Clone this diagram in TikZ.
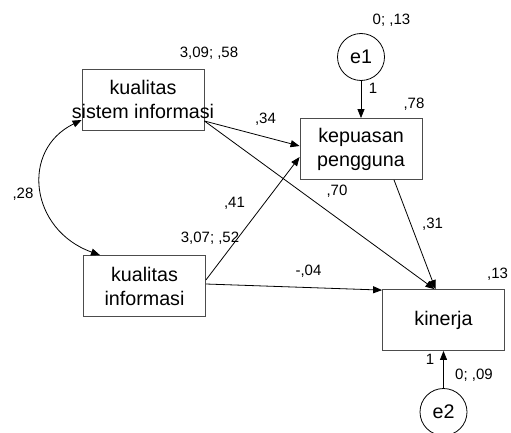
\documentclass[tikz,border=0pt]{standalone}
\usepackage{fontspec}
\setmainfont{Liberation Sans}
\usetikzlibrary{arrows.meta}

\begin{document}
\begin{tikzpicture}[x=1pt, y=-1pt, line width=0.8pt, >={Triangle[length=9pt,width=7pt]},
  box/.style={draw=black!70, rectangle, minimum width=122pt, minimum height=61pt, inner xsep=-12pt, align=center, font=\fontsize{19.7}{24}\selectfont},
  err/.style={draw, circle, minimum size=47pt, inner sep=0pt, font=\fontsize{19.7}{24}\selectfont},
  lbl/.style={inner sep=0pt, font=\fontsize{15}{18}\selectfont, text height=0.72em, text depth=0pt}]
\useasboundingbox (0,0) rectangle (511,433);
\clip (0,0) rectangle (511,433);
% observed variables
\node[box] (ksi) at (143,99.5) {kualitas\\sistem informasi};
\node[box] (kp) at (361,149) {kepuasan\\pengguna};
\node[box] (ki) at (144.5,286) {kualitas\\informasi};
\node[box] (kin) at (443.5,320) {kinerja};
% error terms
\node[err] (e1) at (361,57) {e1};
\node[err] (e2) at (443.5,412) {e2};
% estimates
\node[lbl] (ksivar) at (209,53.5) {3,09; ,58};
\node[lbl] (kivar) at (210,239) {3,07; ,52};
\node[lbl] (e1var) at (391.5,20.5) {0; ,13};
\node[lbl] (e2var) at (474,376) {0; ,09};
\node[lbl] (e1w) at (373,89.5) {1};
\node[lbl] (e2w) at (430,360.5) {1};
\node[lbl] (kpr) at (414,104.5) {,78};
\node[lbl] (kinr) at (497.5,275) {,13};
\node[lbl] (cov) at (23,195) {,28};
\node[lbl] (ksikp) at (265.5,119.5) {,34};
\node[lbl] (ksikin) at (337,192) {,70};
\node[lbl] (kikp) at (234.5,204) {,41};
\node[lbl] (kikin) at (308.5,272) {-,04};
\node[lbl] (kpkin) at (432.5,225) {,31};
% paths
\draw[->] ([yshift=-21.5pt]ksi.east) -- ([yshift=3pt]kp.west);
\draw[->] ([yshift=-21.5pt]ksi.east) -- ([xshift=-9pt]kin.north);
\draw[->] ([yshift=6pt]ki.east) -- ([yshift=-8pt]kp.west);
\draw[->] ([yshift=2pt]ki.east) -- ([yshift=-1pt]kin.north west);
\draw[->] ([xshift=33pt]kp.south) -- ([xshift=-8pt]kin.north);
\draw[->] (e1) -- (kp);
\draw[->] (e2) -- (kin);
\draw[<->] ([xshift=-44.5pt]ki.north) .. controls (30,230) and (20,150) .. ([yshift=-20.5pt]ksi.west);
\end{tikzpicture}
\end{document}
